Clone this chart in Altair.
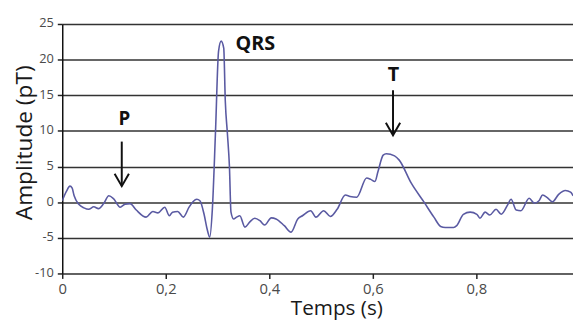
import altair as alt
import pandas as pd

t = [0.0, 0.008, 0.015, 0.019, 0.023, 0.032, 0.042, 0.051, 0.061, 0.070, 0.080, 0.090, 0.099,
     0.112, 0.121, 0.131, 0.143, 0.162, 0.175, 0.185, 0.198, 0.207, 0.213, 0.223, 0.234, 0.245,
     0.253, 0.260, 0.266, 0.274, 0.280, 0.285, 0.290, 0.296, 0.302, 0.307, 0.312, 0.315, 0.319,
     0.323, 0.326, 0.331, 0.337, 0.343, 0.353, 0.362, 0.372, 0.382, 0.391, 0.404, 0.413, 0.429,
     0.442, 0.455, 0.464, 0.480, 0.490, 0.505, 0.518, 0.531, 0.547, 0.556, 0.569, 0.588, 0.596,
     0.604, 0.610, 0.620, 0.626, 0.642, 0.651, 0.674, 0.699, 0.718, 0.731, 0.740, 0.756, 0.762,
     0.775, 0.788, 0.801, 0.807, 0.817, 0.826, 0.838, 0.848, 0.861, 0.867, 0.877, 0.886, 0.902,
     0.912, 0.921, 0.928, 0.937, 0.947, 0.959, 0.972, 0.982, 0.987]
amp = [0.2, 1.5, 2.25, 2.0, 0.9, -0.3, -0.8, -1.0, -0.65, -0.9, -0.2, 0.9, 0.5,
       -0.7, -0.3, -0.2, -1.1, -2.1, -1.3, -1.5, -0.7, -1.9, -1.4, -1.3, -2.1, -0.7,
       0.1, 0.4, 0.2, -1.7, -3.8, -4.9, -1.0, 9.7, 21.2, 22.6, 21.6, 14.2, 9.7,
       5.0, -1.4, -2.35, -2.1, -1.9, -3.5, -2.8, -2.25, -2.6, -3.2, -2.2, -2.35, -3.3,
       -4.2, -2.35, -1.9, -1.2, -2.1, -1.2, -2.0, -1.0, 1.0, 0.8, 0.7, 3.4, 3.2,
       2.9, 4.3, 6.6, 6.8, 6.5, 5.9, 2.7, 0.0, -2.1, -3.4, -3.55, -3.55, -3.3,
       -1.7, -1.4, -1.7, -2.25, -1.4, -1.8, -1.0, -1.7, -0.3, 0.4, -1.1, -1.2, 0.55,
       -0.15, 0.2, 1.0, 0.65, 0.05, 1.1, 1.65, 1.4, 0.9]

x_ticks = [0, 0.2, 0.4, 0.6, 0.8]
y_ticks = [-10, -5, 0, 5, 10, 15, 20, 25]

labels = ["P", "QRS", "T"]
label_t = [0.12, 0.373, 0.64]
label_v = [11.7, 22.2, 17.8]
label_size = [19, 20, 20]

arrow_t = [0.115, 0.639]
arrow_top = [8.5, 15.7]
arrow_tip = [2.25, 9.4]

df = pd.DataFrame({"t": t, "v": amp})
lab = pd.DataFrame({"t": label_t, "v": label_v, "txt": labels, "fs": label_size})
arr = pd.DataFrame({"t": arrow_t, "top": arrow_top, "tip": arrow_tip})

FONT = "Open Sans"
xs = alt.Scale(domain=[0, 0.9867], nice=False, zero=False)
ys = alt.Scale(domain=[-10, 25], nice=False)

x_axis = alt.Axis(
    title="Temps (s)", values=x_ticks,
    labelExpr="datum.value == 0 ? '0' : replace(format(datum.value, '.1f'), '.', ',')",
    labelFlush=False,
    grid=False, domain=False, ticks=True, tickSize=5, tickColor="#222", tickWidth=1.5,
    labelFont=FONT, labelFontSize=15, labelColor="#4a4a4a", labelPadding=3,
    titleFont=FONT, titleFontSize=21, titleFontWeight="normal", titleColor="#1a1a1a",
    titleX=278, titleY=42, titleAlign="center", titleBaseline="alphabetic",
)
y_axis = alt.Axis(
    title="Amplitude (pT)", values=y_ticks,
    labelExpr="'' + datum.value",
    grid=True, gridColor="#333", gridWidth=1.6, gridOpacity=1,
    domain=True, domainColor="#111", domainWidth=1.5,
    ticks=True, tickSize=5, tickColor="#222", tickWidth=1.5,
    labelFont=FONT, labelFontSize=13, labelColor="#4a4a4a", labelPadding=4,
    labelOffset=-1,
    titleFont=FONT, titleFontSize=23, titleFontWeight="normal", titleColor="#1a1a1a",
    titleX=-31, titleY=120, titleAngle=270, titleAlign="center", titleBaseline="alphabetic",
)

X = lambda f: alt.X(f, scale=xs, axis=x_axis)
Y = lambda f: alt.Y(f, scale=ys, axis=y_axis)

line = alt.Chart(df).mark_line(color="#5a5aa2", strokeWidth=1.6, clip=True,
                               interpolate="monotone").encode(
    x=X("t:Q"), y=Y("v:Q"),
)

texts = alt.Chart(lab).mark_text(font=FONT, fontWeight="bold", color="#111").encode(
    x=X("t:Q"), y=Y("v:Q"), text="txt:N",
    size=alt.Size("fs:Q", scale=None, legend=None),
)

shafts = alt.Chart(arr).mark_rule(color="#111", strokeWidth=2).encode(
    x=X("t:Q"), y=Y("top:Q"), y2="tip:Q"
)

heads = alt.Chart(arr).mark_point(
    shape="M -0.58 -1 L 0 0 L 0.58 -1", filled=False, color="#111", strokeWidth=2,
    size=625, opacity=1,
).encode(x=X("t:Q"), y=Y("tip:Q"))

chart = alt.layer(line, shafts, heads, texts).properties(
    width=518, height=253,
    autosize=alt.AutoSizeParams(type="none"),
    padding={"left": 55, "top": 14, "right": 0, "bottom": 46},
).configure_view(strokeWidth=0).configure(background="white")

chart.save("out.html", embed_options={"renderer": "svg", "actions": False})
